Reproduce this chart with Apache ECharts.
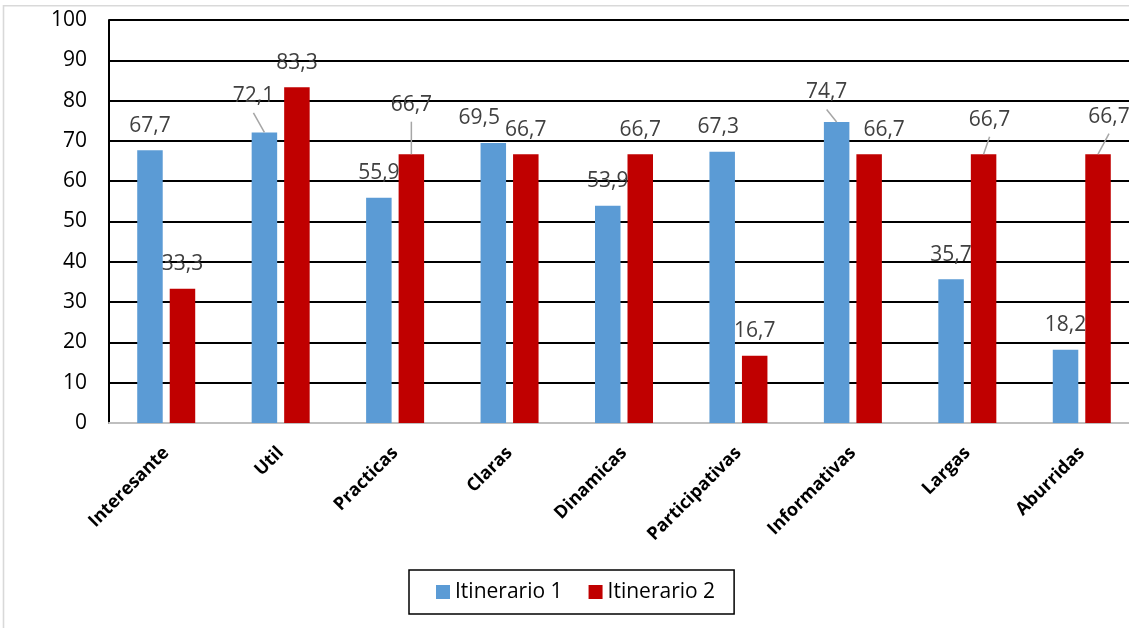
<!DOCTYPE html>
<html>
<head>
<meta charset="utf-8">
<title>Itinerarios</title>
<script src="https://cdn.jsdelivr.net/npm/echarts@6/dist/echarts.min.js"></script>
<style>
  html, body { margin: 0; padding: 0; background: #fff; overflow: hidden; width: 1129px; height: 628px; }
  /* the plot runs a little past the right edge of the window, so the canvas is wider than the page */
  #chart { width: 1150px; height: 628px; }
</style>
</head>
<body>
<div id="chart"></div>
<script>
// Categories and values for both itineraries
const categories = ['Interesante', 'Util', 'Practicas', 'Claras', 'Dinamicas',
  'Participativas', 'Informativas', 'Largas', 'Aburridas'];
const itinerario1 = [67.7, 72.1, 55.9, 69.5, 53.9, 67.3, 74.7, 35.7, 18.2];
const itinerario2 = [33.3, 83.3, 66.7, 66.7, 66.7, 16.7, 66.7, 66.7, 66.7];
const yTicks = { min: 0, max: 100, interval: 10 };

// Label nudges (dx, dy) so neighbouring value labels do not collide
const labelShift1 = [[0, 0], [-11, -12], [0, 0], [-14, 0], [0, 0], [-4, 0], [-10, -5], [0, 0], [0, 0]];
const labelShift2 = [[0, 0], [0, 0], [0, -25], [0, 0], [0, 0], [0, 0], [15, 0], [6, -10], [11, -13]];
// Which nudged labels get a leader line back to their bar
const leader1 = [false, true, false, false, false, false, true, false, false];
const leader2 = [false, false, true, false, false, false, false, true, true];

const FONT = '"Open Sans", "Noto Sans", sans-serif';
const BAR_WIDTH = 25.5;
const BAR_GAP = 7;
const LABEL_DIST = 14;
const LABEL_HALF = 10.5;

function barSeries(name, values, color, shifts) {
  return {
    name: name,
    type: 'bar',
    data: values,
    barWidth: BAR_WIDTH,
    barGap: (BAR_GAP / BAR_WIDTH * 100) + '%',
    itemStyle: { color: color },
    label: {
      show: true,
      position: 'top',
      distance: LABEL_DIST,
      color: '#404040',
      fontFamily: FONT,
      fontSize: 21,
      formatter: p => p.value.toFixed(1).replace('.', ',')
    },
    labelLayout: function (params) {
      const s = shifts[params.dataIndex];
      return { dx: s[0], dy: s[1] };
    }
  };
}

// Leader lines from a nudged label down to the top centre of its bar
function leaderSeries(values, shifts, leaders, side) {
  return {
    type: 'custom',
    silent: true,
    z: 5,
    data: values.map((v, i) => [i, v]),
    renderItem: function (params, api) {
      const i = api.value(0);
      if (!leaders[i]) return null;
      const top = api.coord([i, api.value(1)]);
      const bx = top[0] + side * (BAR_WIDTH + BAR_GAP) / 2;
      const by = top[1];
      const lx = bx + shifts[i][0];
      const ly = by - LABEL_DIST - LABEL_HALF + shifts[i][1] + 17;
      return {
        type: 'line',
        shape: { x1: lx, y1: ly, x2: bx, y2: by },
        style: { stroke: '#a6a6a6', lineWidth: 1.5 }
      };
    }
  };
}

const chart = echarts.init(document.getElementById('chart'), null, { renderer: 'canvas' });

chart.setOption({
  backgroundColor: '#ffffff',
  animation: false,
  textStyle: { fontFamily: FONT },
  graphic: [{
    type: 'rect',
    shape: { x: 3.5, y: 5.8, width: 1300, height: 800 },
    style: { fill: 'none', stroke: '#d9d9d9', lineWidth: 1.6 },
    silent: true,
    z: -10
  }],
  grid: { left: 109, top: 20, width: 1030, bottom: 205, containLabel: false },
  legend: {
    left: 409,
    top: 570,
    orient: 'horizontal',
    itemWidth: 14,
    itemHeight: 14,
    itemGap: 26,
    icon: 'rect',
    padding: [8, 19, 8, 27],
    borderColor: '#000000',
    borderWidth: 1.5,
    backgroundColor: '#ffffff',
    textStyle: { color: '#000000', fontFamily: FONT, fontSize: 21, lineHeight: 28 },
    data: ['Itinerario 1', 'Itinerario 2']
  },
  xAxis: {
    type: 'category',
    data: categories,
    axisLine: { show: true, lineStyle: { color: '#bfbfbf', width: 2 } },
    axisTick: { show: false },
    axisLabel: {
      rotate: 45,
      interval: 0,
      margin: 27,
      color: '#000000',
      fontFamily: FONT,
      fontWeight: 'bold',
      fontSize: 18
    }
  },
  yAxis: {
    type: 'value',
    min: yTicks.min,
    max: yTicks.max,
    interval: yTicks.interval,
    axisLine: { show: true, lineStyle: { color: '#000000', width: 2 } },
    axisTick: { show: false },
    axisLabel: { margin: 22, color: '#000000', fontFamily: FONT, fontSize: 21 },
    splitLine: { show: true, lineStyle: { color: '#000000', width: 2 } }
  },
  series: [
    barSeries('Itinerario 1', itinerario1, '#5b9bd5', labelShift1),
    barSeries('Itinerario 2', itinerario2, '#c00000', labelShift2),
    leaderSeries(itinerario1, labelShift1, leader1, -1),
    leaderSeries(itinerario2, labelShift2, leader2, 1)
  ]
});
</script>
</body>
</html>
